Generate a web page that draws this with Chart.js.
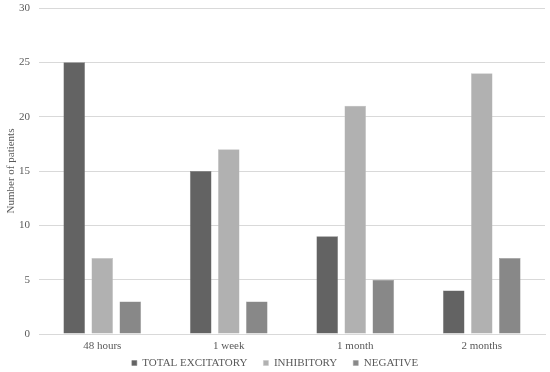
<!DOCTYPE html>
<html><head><meta charset="utf-8">
<script src="https://cdn.jsdelivr.net/npm/chart.js@4/dist/chart.umd.min.js"></script>
<style>html,body{margin:0;padding:0;background:#fff}#wrap{width:550px;height:372px}</style>
</head><body><div id="wrap"><canvas id="c"></canvas></div>
<script>
const categories = ["48 hours", "1 week", "1 month", "2 months"];
const totalExcitatory = [25, 15, 9, 4];
const inhibitory = [7, 17, 21, 24];
const negative = [3, 3, 5, 7];
const seriesNames = ["TOTAL EXCITATORY", "INHIBITORY", "NEGATIVE"];
const yTicks = [0, 5, 10, 15, 20, 25, 30];

const font = {family: "'Liberation Serif', 'Times New Roman', serif", size: 11};
Chart.defaults.font = font;
Chart.defaults.color = '#595959';

new Chart(document.getElementById('c'), {
  type: 'bar',
  data: {
    labels: categories,
    datasets: [
      {label: seriesNames[0], data: totalExcitatory, backgroundColor: '#636363', borderColor: '#7a7a7a', borderWidth: 0.5},
      {label: seriesNames[1], data: inhibitory, backgroundColor: '#b1b1b1', borderColor: '#c4c4c4', borderWidth: 0.5},
      {label: seriesNames[2], data: negative, backgroundColor: '#888888', borderColor: '#9c9c9c', borderWidth: 0.5}
    ]
  },
  options: {
    responsive: true,
    maintainAspectRatio: false,
    animation: false,
    layout: {padding: {top: 8, right: 5, left: 5, bottom: -6.5}},
    datasets: {bar: {barPercentage: 0.77, categoryPercentage: 0.665}},
    plugins: {
      legend: {
        position: 'bottom',
        labels: {boxWidth: 5, boxHeight: 5, padding: 16, color: '#595959', font: font}
      },
      tooltip: {enabled: false}
    },
    scales: {
      x: {
        grid: {display: false, drawTicks: false},
        border: {display: true, color: '#d9d9d9'},
        ticks: {color: '#595959', font: font, mirror: true, padding: -18.6},
        afterFit: (axis) => { axis.height = 7.5; }
      },
      y: {
        min: 0, max: 30,
        afterBuildTicks: (axis) => { axis.ticks = yTicks.map(v => ({value: v})); },
        grid: {color: '#d9d9d9', drawTicks: false},
        border: {display: false},
        ticks: {color: '#595959', font: font, padding: 9},
        title: {display: true, text: 'Number of patients', color: '#595959', font: font, padding: {top: 0, bottom: 0}},
        afterFit: (axis) => { axis.width = 34; axis.paddingTop = 0; axis.paddingBottom = 0; }
      }
    }
  }
});
</script></body></html>
